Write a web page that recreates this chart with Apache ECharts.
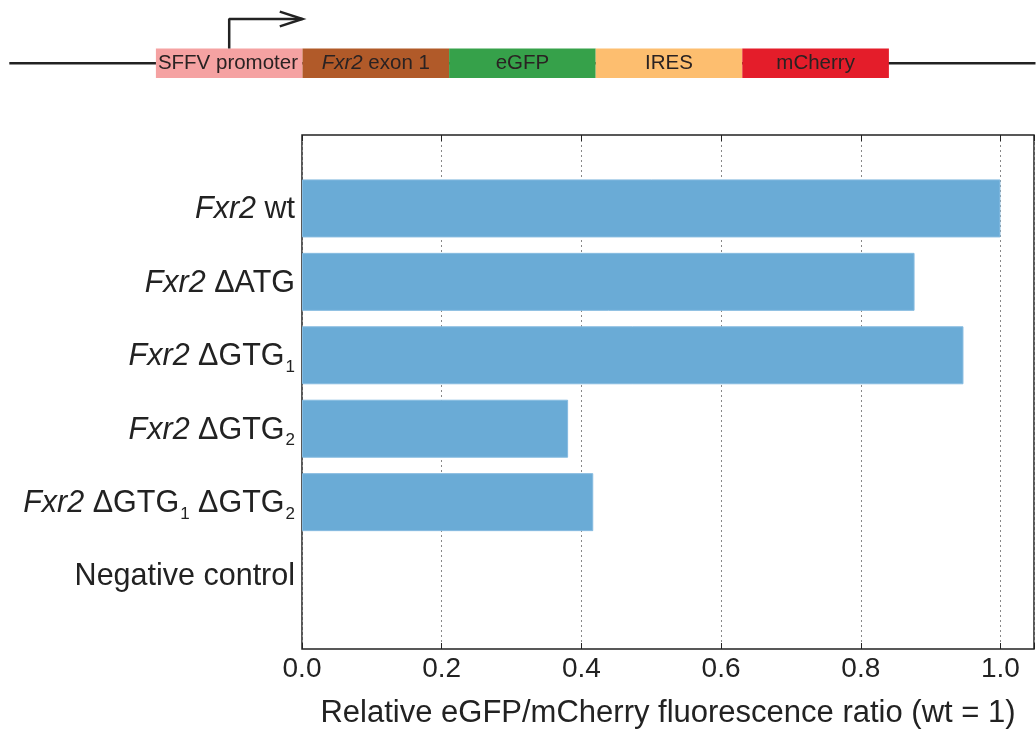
<!DOCTYPE html>
<html>
<head>
<meta charset="utf-8">
<script src="https://cdn.jsdelivr.net/npm/echarts@6/dist/echarts.min.js"></script>
<style>
html,body{margin:0;padding:0;background:#fff;}
#chart{width:1036px;height:731px;}
</style>
</head>
<body>
<div id="chart"></div>
<script>
// ---- data ----
var categories = ['Fxr2 wt', 'Fxr2 ΔATG', 'Fxr2 ΔGTG1', 'Fxr2 ΔGTG2', 'Fxr2 ΔGTG1 ΔGTG2', 'Negative control'];
var ratios = [1.0, 0.877, 0.947, 0.381, 0.417, 0];
var xTicks = [0.0, 0.2, 0.4, 0.6, 0.8, 1.0];
var xName = 'Relative eGFP/mCherry fluorescence ratio (wt = 1)';

// construct schematic
var segNames = ['SFFV promoter', 'Fxr2 exon 1', 'eGFP', 'IRES', 'mCherry'];
var segLengths = [1, 1, 1, 1, 1];
var segStart = 1;
var backboneX = [0, 7];
var arrowShaft = [[1.5, 0.5], [1.5, 1.5], [2.0, 1.5]];
var arrowHead = [[1.845, 1.75], [2.0, 1.5], [1.845, 1.25]];

// ---- styles ----
var FONT = '"Liberation Sans", Arial, Helvetica, sans-serif';
var TXT = '#222';
var segColors = ['#f5a2a2', '#b15a29', '#36a14a', '#fdbe6f', '#e41d2a'];

function richLabel(s) {
  if (!s) return '';
  var out = s.replace(/Fxr2/g, '{i|Fxr2}');
  out = out.replace(/(GTG)(\d)/g, '$1{s|$2}');
  return out.split(/(\{[is]\|[^}]*\})/).map(function (p) {
    if (!p) return '';
    if (/^\{[is]\|/.test(p)) return p;
    return '{a|' + p + '}';
  }).join('');
}

var chart = echarts.init(document.getElementById('chart'), null, {renderer: 'canvas'});

var yData = [''].concat(categories).concat(['']);
var barData = ['-'].concat(ratios.map(function (v) { return v > 0 ? v : '-'; })).concat(['-']);

var series = [
  {
    type: 'bar',
    xAxisIndex: 0, yAxisIndex: 0,
    data: barData,
    barWidth: 58,
    itemStyle: {color: '#6aabd6', borderColor: '#86bbe0', borderWidth: 1},
    z: 3,
    silent: true
  },
  {
    type: 'line',
    xAxisIndex: 2, yAxisIndex: 1,
    data: backboneX.map(function (x) { return [x, 0]; }),
    symbol: 'none',
    lineStyle: {color: '#222', width: 2.5},
    z: 1, silent: true
  },
  {
    type: 'bar', stack: 'seg',
    xAxisIndex: 2, yAxisIndex: 1,
    data: [segStart],
    barWidth: 29.5,
    itemStyle: {color: 'rgba(0,0,0,0)'},
    z: 2, silent: true
  }
];
segNames.forEach(function (n, i) {
  var lbl = n === 'Fxr2 exon 1' ? '{i|Fxr2} exon 1' : n;
  series.push({
    type: 'bar', stack: 'seg',
    xAxisIndex: 2, yAxisIndex: 1,
    data: [segLengths[i]],
    barWidth: 29.5,
    itemStyle: {color: segColors[i]},
    z: 2, silent: true,
    label: {
      show: true,
      position: i === 0 ? 'insideLeft' : 'inside',
      distance: 2,
      formatter: lbl,
      fontFamily: FONT, fontSize: 20.5, color: '#2a2222',
      rich: {i: {fontStyle: 'italic', fontFamily: FONT, fontSize: 20.5, color: '#2a2222'}}
    }
  });
});
series.push({
  type: 'line', xAxisIndex: 2, yAxisIndex: 2,
  data: arrowShaft, symbol: 'none', clip: false,
  lineStyle: {color: '#222', width: 2.5}, z: 4, silent: true
});
series.push({
  type: 'line', xAxisIndex: 2, yAxisIndex: 2,
  data: arrowHead, symbol: 'none', clip: false,
  lineStyle: {color: '#222', width: 2.5, join: 'miter'}, z: 4, silent: true
});

var option = {
  animation: false,
  backgroundColor: '#fff',
  grid: [
    {left: 302, right: 2, top: 135, bottom: 82, show: true, borderColor: '#222', borderWidth: 1.5, backgroundColor: 'transparent', containLabel: false, outerBoundsMode: 'none'},
    {left: 9.3, width: 1026.2, top: 10, height: 106.6, containLabel: false, outerBoundsMode: 'none'}
  ],
  xAxis: [
    {
      type: 'value', gridIndex: 0, position: 'bottom',
      min: 0, max: 1.048, interval: 0.2,
      axisLine: {show: false},
      axisTick: {show: true, inside: true, length: 6, lineStyle: {color: '#222', width: 1}},
      axisLabel: {
        margin: 6, fontFamily: FONT, fontSize: 28, color: TXT,
        formatter: function (v) {
          for (var k = 0; k < xTicks.length; k++) if (Math.abs(xTicks[k] - v) < 1e-6) return xTicks[k].toFixed(1);
          return '';
        }
      },
      splitLine: {show: true, lineStyle: {color: '#888', width: 1, type: [2, 3]}},
      name: xName, nameLocation: 'middle', nameGap: 49,
      nameTextStyle: {fontFamily: FONT, fontSize: 31, color: TXT}
    },
    {
      type: 'value', gridIndex: 0, position: 'top',
      min: 0, max: 1.048, interval: 0.2,
      axisLine: {show: false},
      axisTick: {show: true, inside: true, length: 6, lineStyle: {color: '#222', width: 1}},
      axisLabel: {show: false}, splitLine: {show: false}
    },
    {type: 'value', gridIndex: 1, min: 0, max: 7, show: false}
  ],
  yAxis: [
    {
      type: 'category', gridIndex: 0, data: yData, inverse: true, boundaryGap: false,
      axisLine: {show: false}, axisTick: {show: false}, splitLine: {show: false},
      axisLabel: {
        margin: 7, interval: 0, padding: [3, 0, 0, 0],
        formatter: function (v) { return richLabel(v); },
        rich: {
          a: {fontFamily: FONT, fontSize: 30.5, color: TXT},
          i: {fontFamily: FONT, fontSize: 30.5, color: TXT, fontStyle: 'italic'},
          s: {fontFamily: FONT, fontSize: 17, color: TXT, padding: [21, 0, 0, 1]}
        }
      }
    },
    {type: 'category', gridIndex: 1, data: ['c'], show: false},
    {type: 'value', gridIndex: 1, position: 'right', min: -1.807, max: 1.807, show: false}
  ],
  series: series
};
chart.setOption(option);
</script>
</body>
</html>
